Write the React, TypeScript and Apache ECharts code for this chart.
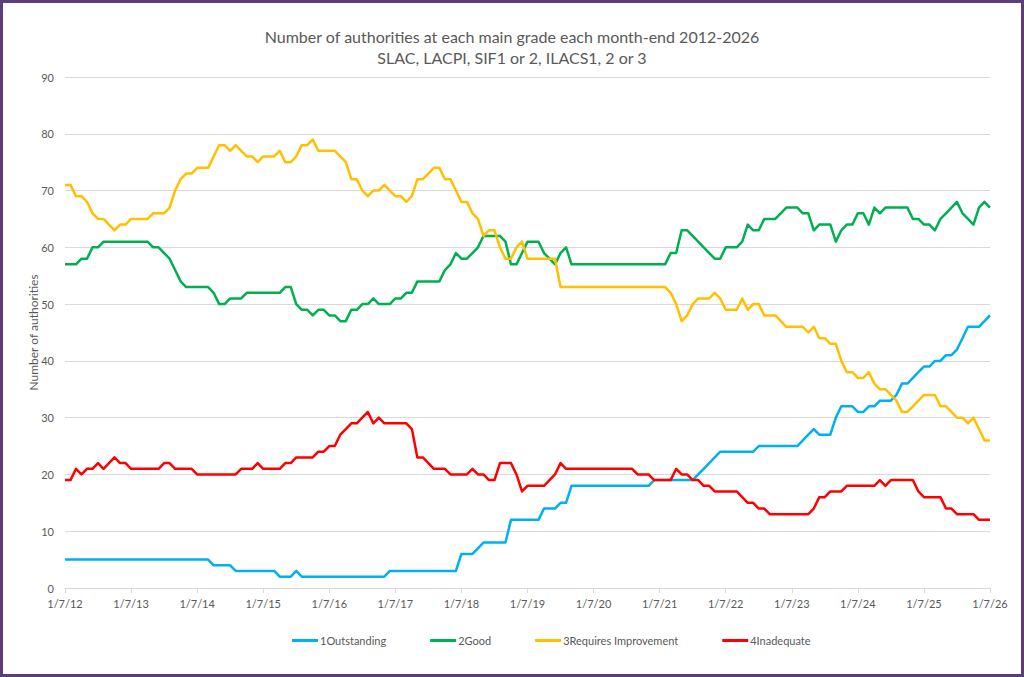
import React, { useEffect, useRef } from "react";
import * as echarts from "echarts";

const START_YEAR = 2012;
const START_MONTH = 7;
const MONTHS = 169;

const seriesNames = ["1Outstanding", "2Good", "3Requires Improvement", "4Inadequate"];
const seriesColors = ["#00B0F0", "#00B050", "#FFC000", "#FF0000"];

const outstanding = [
  5, 5, 5, 5, 5, 5, 5, 5, 5, 5, 5, 5,
  5, 5, 5, 5, 5, 5, 5, 5, 5, 5, 5, 5,
  5, 5, 5, 4, 4, 4, 4, 3, 3, 3, 3, 3,
  3, 3, 3, 2, 2, 2, 3, 2, 2, 2, 2, 2,
  2, 2, 2, 2, 2, 2, 2, 2, 2, 2, 2, 3,
  3, 3, 3, 3, 3, 3, 3, 3, 3, 3, 3, 3,
  6, 6, 6, 7, 8, 8, 8, 8, 8, 12, 12, 12,
  12, 12, 12, 14, 14, 14, 15, 15, 18, 18, 18, 18,
  18, 18, 18, 18, 18, 18, 18, 18, 18, 18, 18, 19,
  19, 19, 19, 19, 19, 19, 19, 20, 21, 22, 23, 24,
  24, 24, 24, 24, 24, 24, 25, 25, 25, 25, 25, 25,
  25, 25, 26, 27, 28, 27, 27, 27, 30, 32, 32, 32,
  31, 31, 32, 32, 33, 33, 33, 34, 36, 36, 37, 38,
  39, 39, 40, 40, 41, 41, 42, 44, 46, 46, 46, 47,
  48,
];

const good = [
  57, 57, 57, 58, 58, 60, 60, 61, 61, 61, 61, 61,
  61, 61, 61, 61, 60, 60, 59, 58, 56, 54, 53, 53,
  53, 53, 53, 52, 50, 50, 51, 51, 51, 52, 52, 52,
  52, 52, 52, 52, 53, 53, 50, 49, 49, 48, 49, 49,
  48, 48, 47, 47, 49, 49, 50, 50, 51, 50, 50, 50,
  51, 51, 52, 52, 54, 54, 54, 54, 54, 56, 57, 59,
  58, 58, 59, 60, 62, 62, 62, 62, 61, 57, 57, 59,
  61, 61, 61, 59, 58, 57, 59, 60, 57, 57, 57, 57,
  57, 57, 57, 57, 57, 57, 57, 57, 57, 57, 57, 57,
  57, 57, 59, 59, 63, 63, 62, 61, 60, 59, 58, 58,
  60, 60, 60, 61, 64, 63, 63, 65, 65, 65, 66, 67,
  67, 67, 66, 66, 63, 64, 64, 64, 61, 63, 64, 64,
  66, 66, 64, 67, 66, 67, 67, 67, 67, 67, 65, 65,
  64, 64, 63, 65, 66, 67, 68, 66, 65, 64, 67, 68,
  67,
];

const requiresImprovement = [
  71, 71, 69, 69, 68, 66, 65, 65, 64, 63, 64, 64,
  65, 65, 65, 65, 66, 66, 66, 67, 70, 72, 73, 73,
  74, 74, 74, 76, 78, 78, 77, 78, 77, 76, 76, 75,
  76, 76, 76, 77, 75, 75, 76, 78, 78, 79, 77, 77,
  77, 77, 76, 75, 72, 72, 70, 69, 70, 70, 71, 70,
  69, 69, 68, 69, 72, 72, 73, 74, 74, 72, 72, 70,
  68, 68, 66, 65, 62, 63, 63, 60, 58, 58, 60, 61,
  58, 58, 58, 58, 58, 58, 53, 53, 53, 53, 53, 53,
  53, 53, 53, 53, 53, 53, 53, 53, 53, 53, 53, 53,
  53, 53, 52, 50, 47, 48, 50, 51, 51, 51, 52, 51,
  49, 49, 49, 51, 49, 50, 50, 48, 48, 48, 47, 46,
  46, 46, 46, 45, 46, 44, 44, 43, 43, 40, 38, 38,
  37, 37, 38, 36, 35, 35, 34, 33, 31, 31, 32, 33,
  34, 34, 34, 32, 32, 31, 30, 30, 29, 30, 28, 26,
  26,
];

const inadequate = [
  19, 19, 21, 20, 21, 21, 22, 21, 22, 23, 22, 22,
  21, 21, 21, 21, 21, 21, 22, 22, 21, 21, 21, 21,
  20, 20, 20, 20, 20, 20, 20, 20, 21, 21, 21, 22,
  21, 21, 21, 21, 22, 22, 23, 23, 23, 23, 24, 24,
  25, 25, 27, 28, 29, 29, 30, 31, 29, 30, 29, 29,
  29, 29, 29, 28, 23, 23, 22, 21, 21, 21, 20, 20,
  20, 20, 21, 20, 20, 19, 19, 22, 22, 22, 20, 17,
  18, 18, 18, 18, 19, 20, 22, 21, 21, 21, 21, 21,
  21, 21, 21, 21, 21, 21, 21, 21, 20, 20, 20, 19,
  19, 19, 19, 21, 20, 20, 19, 19, 18, 18, 17, 17,
  17, 17, 17, 16, 15, 15, 14, 14, 13, 13, 13, 13,
  13, 13, 13, 13, 14, 16, 16, 17, 17, 17, 18, 18,
  18, 18, 18, 18, 19, 18, 19, 19, 19, 19, 19, 17,
  16, 16, 16, 16, 14, 14, 13, 13, 13, 13, 12, 12,
  12,
];

const seriesData = [outstanding, good, requiresImprovement, inadequate];

function buildCategories(): string[] {
  const out: string[] = [];
  for (let i = 0; i < MONTHS; i++) {
    const m0 = START_MONTH - 1 + i;
    const month = (m0 % 12) + 1;
    const year = (START_YEAR + Math.floor(m0 / 12)) % 100;
    out.push(`1/${month}/${year}`);
  }
  return out;
}

const FONT = "Lato, 'Noto Sans', sans-serif";

export default function App() {
  const ref = useRef<HTMLDivElement>(null);
  useEffect(() => {
    if (!ref.current) return;
    const chart = echarts.init(ref.current, undefined, { renderer: "svg" });
    const categories = buildCategories();
    chart.setOption({
      animation: false,
      backgroundColor: "#ffffff",
      textStyle: { fontFamily: FONT },
      title: {
        text: "Number of authorities at each main grade each month-end 2012-2026\nSLAC, LACPI, SIF1 or 2, ILACS1, 2 or 3",
        left: "center",
        top: 21,
        textStyle: {
          fontFamily: FONT,
          fontSize: 16,
          fontWeight: "normal",
          color: "#595959",
          lineHeight: 21,
        },
      },
      legend: {
        bottom: 26,
        left: 287,
        itemGap: 44,
        itemWidth: 26,
        itemHeight: 3,
        icon: "rect",
        textStyle: { fontFamily: FONT, fontSize: 11, color: "#595959", padding: [0, 0, 0, -3] },
        data: seriesNames,
      },
      grid: { left: 65, right: 34, top: 77, bottom: 89, containLabel: false },
      xAxis: {
        type: "category",
        boundaryGap: false,
        data: categories,
        axisLine: { show: true, lineStyle: { color: "#D9D9D9", width: 1 } },
        axisTick: { show: true, interval: 11, length: 5, lineStyle: { color: "#D9D9D9" } },
        axisLabel: {
          interval: 11,
          color: "#595959",
          fontSize: 11,
          fontFamily: FONT,
          margin: 10,
        },
        splitLine: { show: false },
      },
      yAxis: {
        type: "value",
        min: 0,
        max: 90,
        interval: 10,
        name: "Number of authorities",
        nameLocation: "middle",
        nameGap: 26,
        nameMoveOverlap: false,
        nameTextStyle: { color: "#595959", fontSize: 12, fontFamily: FONT },
        axisLine: { show: false },
        axisTick: { show: false },
        axisLabel: { color: "#595959", fontSize: 11, fontFamily: FONT, margin: 11 },
        splitLine: { lineStyle: { color: "#D9D9D9", width: 1 } },
      },
      graphic: [
        {
          type: "rect",
          shape: { x: 1.5, y: 1.5, width: 1021, height: 674 },
          style: { fill: "none", stroke: "#5E3D7E", lineWidth: 3 },
          silent: true,
          z: 100,
        },
      ],
      series: seriesNames.map((name, k) => ({
        name,
        type: "line",
        data: seriesData[k],
        showSymbol: false,
        symbol: "none",
        color: seriesColors[k],
        lineStyle: { width: 2.5, color: seriesColors[k], join: "round" },
      })),
    });
    return () => chart.dispose();
  }, []);
  return (
    <div
      ref={ref}
      style={{ position: "absolute", left: 0, top: 0, width: 1024, height: 677 }}
    />
  );
}
